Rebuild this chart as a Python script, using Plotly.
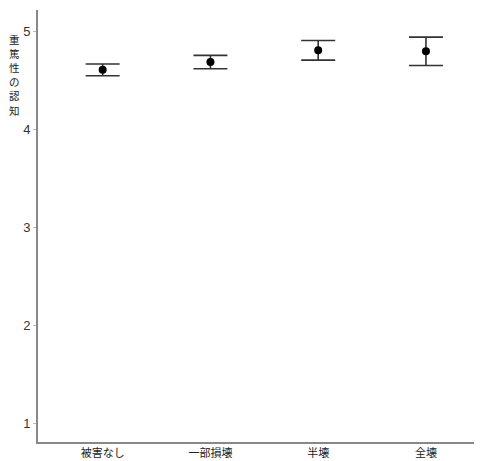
import plotly.graph_objects as go

categories = ["被害なし", "一部損壊", "半壊", "全壊"]
means = [4.61, 4.69, 4.81, 4.80]
errors = [0.06, 0.068, 0.10, 0.145]
y_ticks = [1, 2, 3, 4, 5]
y_title = "重篤性の認知"

# page body has an 8px offset; figure sized to fit the window
OFF = 8
W, H = 482 - OFF, 461 - OFF
ml, mr, mt, mb = 38 - OFF, 0, 10 - OFF, 461 - 441.7
PW, PH = W - ml - mr, H - mt - mb

fig = go.Figure()
fig.add_trace(go.Scatter(
    x=list(range(len(categories))), y=means, mode="markers",
    marker=dict(color="black", size=8),
    error_y=dict(type="data", array=errors, visible=True,
                 color="#333333", thickness=1.6, width=17),
    showlegend=False,
))

# vertical stacked y-axis title, one character per line
step = 14.2
first = 39 - OFF
annots = []
for i, ch in enumerate(y_title):
    ypix = first + i * step
    annots.append(dict(
        text=ch, xref="paper", yref="paper",
        x=-(ml - (14 - OFF)) / PW, y=1 - (ypix - mt) / PH,
        xanchor="center", yanchor="middle", showarrow=False, borderpad=0,
        font=dict(size=10.5, family="Noto Sans CJK JP", color="#222222"),
    ))

fig.update_layout(
    width=W, height=H,
    margin=dict(l=ml, r=mr, t=mt, b=mb),
    plot_bgcolor="white", paper_bgcolor="white",
    font=dict(family="Liberation Sans, Noto Sans CJK JP, sans-serif", size=12, color="#222222"),
    xaxis=dict(
        range=[-0.6, 3.52], tickmode="array",
        tickvals=list(range(len(categories))), ticktext=categories,
        showgrid=False, zeroline=False, showline=True, linecolor="#888888", linewidth=2,
        ticks="", tickfont=dict(size=11, family="Noto Sans CJK JP", color="#222222"),
        automargin=False,
    ),
    yaxis=dict(
        range=[0.806, 5.222], tickmode="array", tickvals=y_ticks,
        ticktext=[str(t) for t in y_ticks],
        showgrid=False, zeroline=False, showline=True, linecolor="#888888", linewidth=2,
        ticks="outside", ticklen=3, tickcolor="#bbbbbb", tickwidth=1,
        tickfont=dict(size=13, color="#333333"),
        automargin=False,
    ),
    annotations=annots,
)

fig.write_html("out.html")
